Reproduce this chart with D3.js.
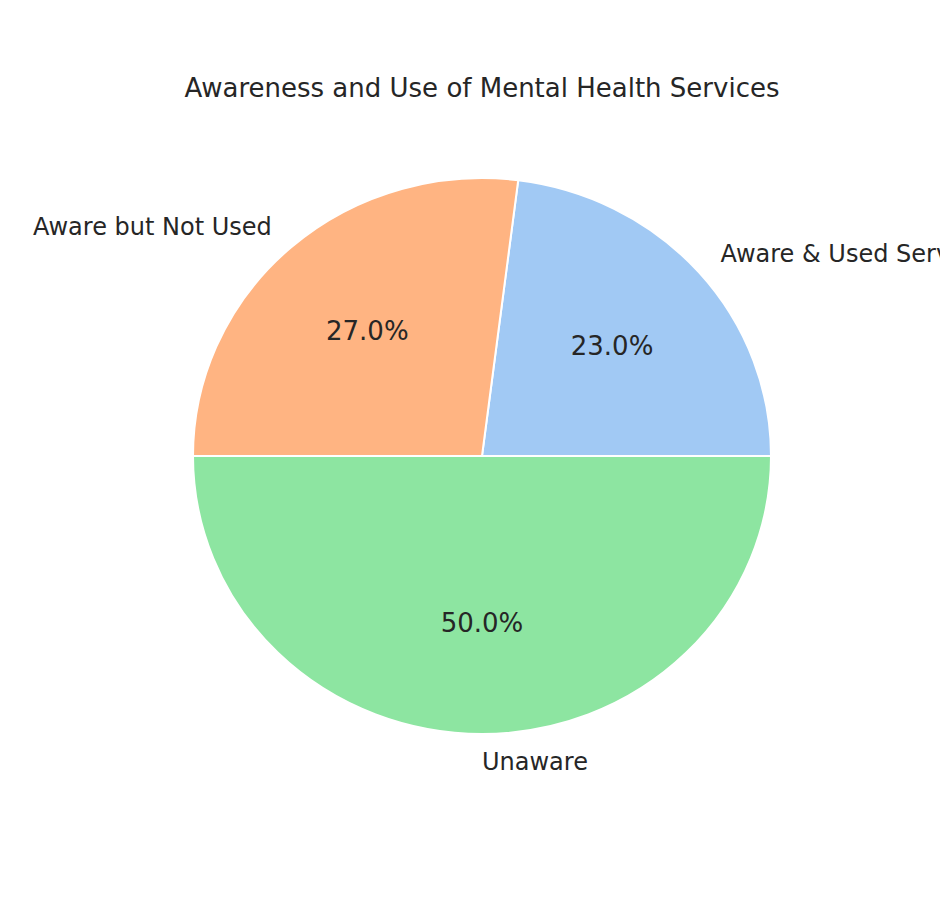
<!DOCTYPE html>
<html>
<head>
<meta charset="utf-8">
<script src="https://cdn.jsdelivr.net/npm/d3@7"></script>
<style>
  html, body { margin: 0; padding: 0; background: #ffffff; }
  svg { display: block; }
  text { font-family: "DejaVu Sans", sans-serif; fill: #262626; }
</style>
</head>
<body>
<svg id="chart" width="940" height="904"></svg>
<script>
const categories = ["Aware & Used Services", "Aware but Not Used", "Unaware"];
const values = [23, 27, 50];
const colors = ["#a1c9f4", "#ffb482", "#8de5a1"];
const title = "Awareness and Use of Mental Health Services";

const W = 940, H = 904;
const cx = 482, cy = 456;
const rx = 289, ry = 278;

const svg = d3.select("#chart");

svg.append("text")
  .attr("x", cx).attr("y", 88)
  .attr("text-anchor", "middle")
  .attr("dominant-baseline", "central")
  .style("font-size", "26px")
  .text(title);

const total = d3.sum(values);
// matplotlib: start at 0 deg (east), counterclockwise
const angle = d3.scaleLinear().domain([0, total]).range([0, 2 * Math.PI]);
let cum = 0;
const slices = values.map((v, i) => {
  const s = { i, v, a0: angle(cum), a1: angle(cum + v) };
  cum += v;
  return s;
});

// d3.arc uses angle clockwise from 12 o'clock; convert
const toD3 = a => Math.PI / 2 - a;
const arc = d3.arc().innerRadius(0).outerRadius(rx);

const g = svg.append("g").attr("transform", `translate(${cx},${cy}) scale(1,${ry / rx})`);
g.selectAll("path")
  .data(slices)
  .join("path")
  .attr("d", d => arc({ startAngle: toD3(d.a1), endAngle: toD3(d.a0) }))
  .attr("fill", d => colors[d.i])
  .attr("stroke", "#ffffff")
  .attr("stroke-width", 2)
  .attr("vector-effect", "non-scaling-stroke");

const labels = svg.append("g");
slices.forEach(d => {
  const m = (d.a0 + d.a1) / 2;
  const c = Math.cos(m), s = Math.sin(m);
  const lx = cx + 1.1 * rx * c, ly = cy - 1.1 * ry * s;
  labels.append("text")
    .attr("x", lx).attr("y", ly)
    .attr("text-anchor", c >= -1e-9 ? "start" : "end")
    .attr("dominant-baseline", "central")
    .style("font-size", "24px")
    .text(categories[d.i]);
  const px = cx + 0.6 * rx * c, py = cy - 0.6 * ry * s;
  labels.append("text")
    .attr("x", px).attr("y", py)
    .attr("text-anchor", "middle")
    .attr("dominant-baseline", "central")
    .style("font-size", "26px")
    .text(d3.format(".1f")(d.v / total * 100) + "%");
});
</script>
</body>
</html>
